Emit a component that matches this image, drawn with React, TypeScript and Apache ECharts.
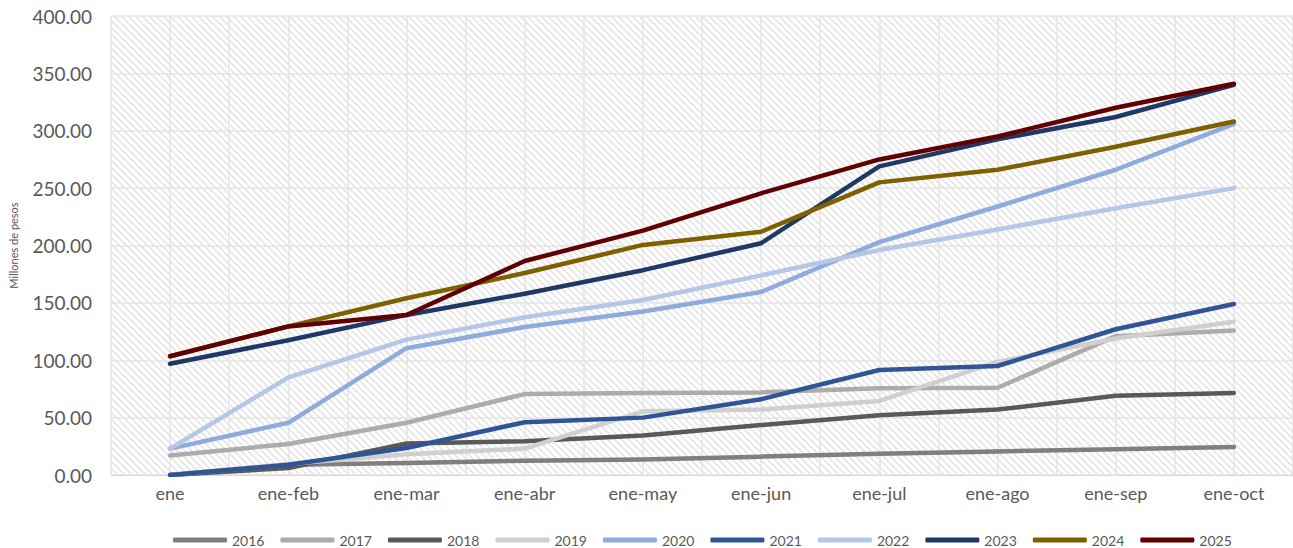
import React, { useEffect, useRef } from 'react';
import * as echarts from 'echarts';

const categories = ['ene', 'ene-feb', 'ene-mar', 'ene-abr', 'ene-may', 'ene-jun', 'ene-jul', 'ene-ago', 'ene-sep', 'ene-oct'];
const years = ['2016', '2017', '2018', '2019', '2020', '2021', '2022', '2023', '2024', '2025'];

const s2016 = [0, 9, 10.5, 12.5, 13.5, 16, 18.5, 20.5, 22.5, 24.5];
const s2017 = [17, 27, 45.5, 70.5, 71.5, 72, 75.5, 76, 121, 126];
const s2018 = [0, 6, 27.5, 29.5, 34.5, 43.5, 52, 57, 69, 71.5];
const s2019 = [0, 9.5, 18, 23, 55.5, 57, 64.5, 98.5, 119, 133.5];
const s2020 = [23, 45.5, 110.5, 129, 142.5, 159.5, 203, 234, 266, 306];
const s2021 = [0, 9, 23.5, 46, 50, 66, 91.5, 95, 127, 149];
const s2022 = [23, 85, 118, 137.5, 152.5, 174, 196, 214, 232.5, 250];
const s2023 = [97, 117.5, 139.5, 158, 178.5, 202, 269, 292.5, 312, 340];
const s2024 = [103.5, 129.5, 154, 176, 200.5, 212, 255, 266, 286, 308];
const s2025 = [103.5, 129.5, 139.5, 186.5, 213, 245.5, 275, 295, 320, 341];

const seriesValues = [s2016, s2017, s2018, s2019, s2020, s2021, s2022, s2023, s2024, s2025];
const colors = ['#7f7f7f', '#aeabab', '#595959', '#d0cece', '#8faadc', '#2f5597', '#b4c7e7', '#203864', '#7f6000', '#600000'];

const yTicks = { min: 0, max: 400, interval: 50 };
const FONT = 'Lato, "Open Sans", sans-serif';

export default function App() {
  const ref = useRef<HTMLDivElement>(null);

  useEffect(() => {
    document.body.style.margin = '0';
    const chart = echarts.init(ref.current!, null, { renderer: 'svg' });

    const tile = document.createElement('canvas');
    const T = 7;
    tile.width = T;
    tile.height = T;
    const ctx = tile.getContext('2d')!;
    ctx.fillStyle = '#ffffff';
    ctx.fillRect(0, 0, T, T);
    ctx.strokeStyle = '#e2e2e2';
    ctx.lineWidth = 1.5;
    ctx.beginPath();
    ctx.moveTo(-2, -2);
    ctx.lineTo(T + 2, T + 2);
    ctx.moveTo(-2, T - 2);
    ctx.lineTo(2, T + 2);
    ctx.moveTo(T - 2, -2);
    ctx.lineTo(T + 2, 2);
    ctx.stroke();

    chart.setOption({
      animation: false,
      backgroundColor: '#ffffff',
      grid: {
        left: 109,
        top: 16,
        width: 1192,
        height: 459,
        show: true,
        borderWidth: 0,
        backgroundColor: { image: tile, repeat: 'repeat' },
      },
      legend: {
        data: years,
        left: 173,
        top: 533,
        padding: 0,
        itemWidth: 54,
        itemHeight: 5,
        itemGap: 16,
        icon: 'roundRect',
        textStyle: { fontSize: 14, color: '#595959', fontFamily: FONT },
      },
      xAxis: [
        {
          type: 'category',
          data: categories,
          boundaryGap: true,
          axisLine: { show: true, lineStyle: { color: '#d9d9d9', width: 1 } },
          axisTick: { show: false },
          axisLabel: { fontSize: 18, color: '#595959', margin: 9, fontFamily: FONT },
          splitLine: { show: false },
        },
        {
          type: 'value',
          min: 0,
          max: 20,
          interval: 1,
          position: 'top',
          axisLine: { show: false },
          axisTick: { show: false },
          axisLabel: { show: false },
          splitLine: { show: true, lineStyle: { color: '#e4e4e4', width: 1.5 } },
        },
      ],
      yAxis: {
        type: 'value',
        min: yTicks.min,
        max: yTicks.max,
        interval: yTicks.interval,
        name: 'Millones de pesos',
        nameLocation: 'middle',
        nameGap: 92,
        nameRotate: 90,
        nameTextStyle: { fontSize: 11, color: '#595959', fontFamily: FONT },
        axisLine: { show: false },
        axisTick: { show: false },
        axisLabel: {
          fontSize: 19,
          color: '#595959',
          margin: 19,
          fontFamily: FONT,
          formatter: (v: number) => v.toFixed(2),
        },
        splitLine: { show: true, lineStyle: { color: '#e4e4e4', width: 1.5 } },
      },
      series: years.map((y, i) => ({
        name: y,
        type: 'line',
        xAxisIndex: 0,
        data: seriesValues[i],
        symbol: 'none',
        color: colors[i],
        itemStyle: { color: colors[i] },
        lineStyle: { color: colors[i], width: 4.5, cap: 'round', join: 'round' },
      })),
    });

    return () => chart.dispose();
  }, []);

  return <div ref={ref} style={{ width: 1293, height: 548 }} />;
}
